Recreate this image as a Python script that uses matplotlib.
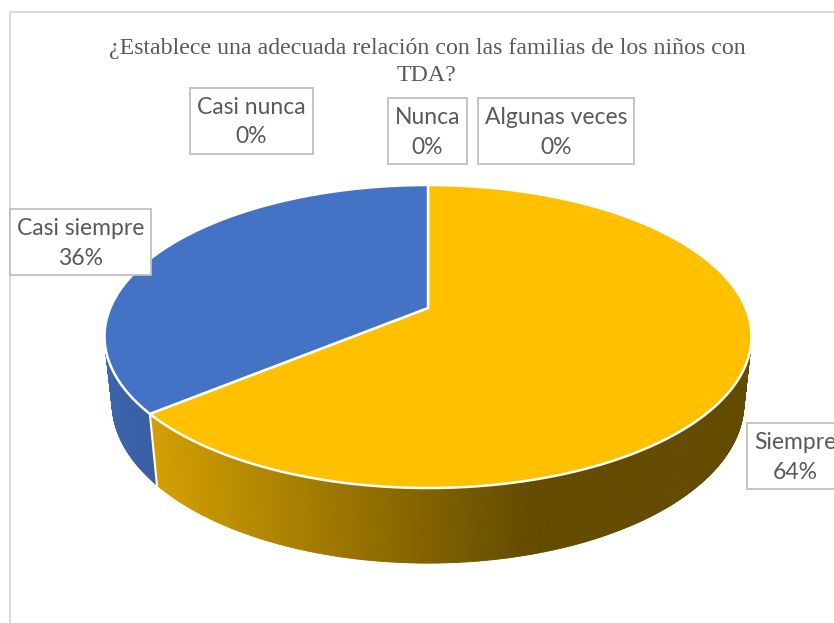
import numpy as np
import matplotlib
matplotlib.use("Agg")
import matplotlib.pyplot as plt
from matplotlib.patches import Polygon, Rectangle
from matplotlib.collections import PolyCollection

# datos del grafico (orden de Excel, sentido horario desde las 12)
categorias = ["Siempre", "Casi siempre", "Algunas veces", "Casi nunca", "Nunca"]
valores = [64, 36, 0, 0, 0]
colores = ["#FFC000", "#4472C4", "#A5A5A5", "#ED7D31", "#5B9BD5"]
titulo = "¿Establece una adecuada relación con las familias de los niños con\nTDA?"

# posicion de las etiquetas (centro de la caja, en pixeles)
pos_etiq = {"Siempre": (795, 456), "Casi siempre": (80.5, 242),
            "Algunas veces": (556, 131), "Casi nunca": (251.5, 120.5),
            "Nunca": (427.5, 131)}

# vista 3D (perspectiva tipo Excel)
cx, cy = 428, 308
k = 317.7
se, ce = 0.46, 0.888
f = 4.72
h = 0.237

def proj(t, y=0.0):
    x3 = np.cos(t)
    z3 = np.sin(t)
    v = z3*se + y*ce
    w = z3*ce - y*se
    s = f/(f + w)
    return cx + k*x3*s, cy - k*v*s

def sombra(x):
    return np.clip(0.83 - (x - 150)*0.00116, 0.39, 0.9)

fig = plt.figure(figsize=(8.34, 6.23), dpi=100)
ax = fig.add_axes([0, 0, 1, 1])
ax.set_xlim(0, 834)
ax.set_ylim(623, 0)
ax.axis("off")

ax.add_patch(Rectangle((10, 12), 850, 650, fill=False, edgecolor="#D9D9D9", lw=1.5))

total = float(sum(valores))
frac = np.array(valores)/total
cum = np.concatenate([[0], np.cumsum(frac)])
ang0 = np.pi/2 - cum[:-1]*2*np.pi
ang1 = np.pi/2 - cum[1:]*2*np.pi

def slice_de(t):
    a = (np.pi/2 - t) % (2*np.pi) / (2*np.pi)
    return int(np.searchsorted(cum[1:], a, side="right").clip(0, len(valores)-1))

# pared lateral (mitad frontal)
ts = np.linspace(np.pi*0.97, np.pi*2.03, 500)
polys = []
cols = []
for a, b in zip(ts[:-1], ts[1:]):
    x1, y1 = proj(a, 0)
    x2, y2 = proj(b, 0)
    x3, y3 = proj(b, -h)
    x4, y4 = proj(a, -h)
    polys.append([(x1, y1), (x2, y2), (x3, y3), (x4, y4)])
    base = np.array(matplotlib.colors.to_rgb(colores[slice_de((a+b)/2)]))
    cols.append(tuple(base*sombra((x1+x2)/2)))
ax.add_collection(PolyCollection(polys, facecolors=cols, edgecolors=cols, linewidths=0.6))

# separaciones blancas en la pared
for i in range(len(valores)):
    if valores[i] == 0:
        continue
    t = ang0[i]
    if np.sin(t) < -0.2:
        xa, ya = proj(t, 0)
        xb, yb = proj(t, -h)
        ax.plot([xa, xb], [ya, yb], color="white", lw=1.5)

# cara superior
for i in range(len(valores)):
    if valores[i] == 0:
        continue
    tt = np.linspace(ang0[i], ang1[i], 300)
    px, py = proj(tt, 0)
    pts = [(cx, cy)] + list(zip(px, py))
    ax.add_patch(Polygon(pts, closed=True, facecolor=colores[i], edgecolor="white", lw=1.8))

ax.text(427, 62, titulo, ha="center", va="center", fontsize=17.2, color="#595959",
        family="Liberation Serif", linespacing=1.4)

# etiquetas con caja
r = fig.canvas.get_renderer()
for i, cat in enumerate(categorias):
    x, y = pos_etiq[cat]
    txt = ax.text(x, y + 1.5, f"{cat}\n{round(frac[i]*100)}%", ha="center", va="center",
                  fontsize=16.5, color="#595959", family="Lato", linespacing=1.5, zorder=5)
    bb = txt.get_window_extent(renderer=r)
    w = bb.width + 14
    hh = 66
    ax.add_patch(Rectangle((x - w/2, y - hh/2), w, hh, facecolor="white",
                           edgecolor="#BFBFBF", lw=1.3, zorder=4))

fig.savefig("out.png", dpi=100)
